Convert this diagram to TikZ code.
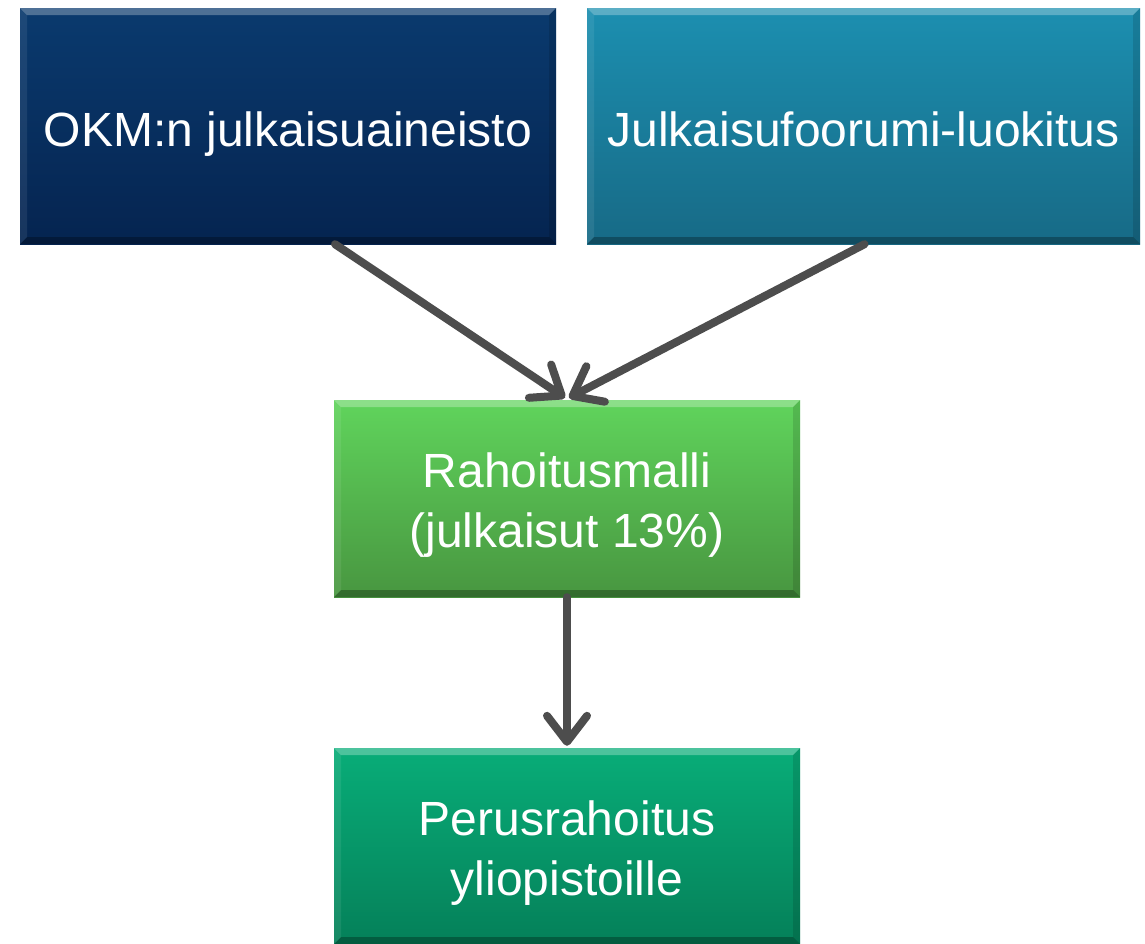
\documentclass[tikz,border=0pt]{standalone}
\usepackage{fontspec}
\setmainfont{Liberation Sans}
\usetikzlibrary{arrows.meta}
\definecolor{arrowgray}{HTML}{4D4D4D}
\tikzset{
  bevelbox/.style={rectangle, inner sep=0pt,
    path picture={
      \fill[white,opacity=0.28] (path picture bounding box.north west) -- (path picture bounding box.north east)
        -- ([xshift=-7pt,yshift=-7pt]path picture bounding box.north east) -- ([xshift=7pt,yshift=-7pt]path picture bounding box.north west) -- cycle;
      \fill[black,opacity=0.28] (path picture bounding box.south west) -- (path picture bounding box.south east)
        -- ([xshift=-7pt,yshift=7pt]path picture bounding box.south east) -- ([xshift=7pt,yshift=7pt]path picture bounding box.south west) -- cycle;
      \fill[black,opacity=0.12] (path picture bounding box.north east) -- (path picture bounding box.south east)
        -- ([xshift=-7pt,yshift=7pt]path picture bounding box.south east) -- ([xshift=-7pt,yshift=-7pt]path picture bounding box.north east) -- cycle;
      \fill[white,opacity=0.08] (path picture bounding box.north west) -- (path picture bounding box.south west)
        -- ([xshift=7pt,yshift=7pt]path picture bounding box.south west) -- ([xshift=7pt,yshift=-7pt]path picture bounding box.north west) -- cycle;
    }},
  boxtext/.style={text=white, align=center, inner sep=0pt, font=\fontsize{48}{60}\selectfont},
  linetext/.style={boxtext, text height=35pt, text depth=0pt},
  okmbox/.style={bevelbox, top color={rgb,255:red,10;green,58;blue,110}, bottom color={rgb,255:red,5;green,36;blue,80}},
  jfbox/.style={bevelbox, top color={rgb,255:red,28;green,143;blue,176}, bottom color={rgb,255:red,23;green,106;blue,134}},
  rmbox/.style={bevelbox, top color={rgb,255:red,96;green,212;blue,92}, bottom color={rgb,255:red,72;green,150;blue,64}},
  prbox/.style={bevelbox, top color={rgb,255:red,8;green,173;blue,120}, bottom color={rgb,255:red,5;green,128;blue,89}},
  flow/.style={draw=arrowgray, line width=8pt, line cap=round,
    -{Straight Barb[length=26pt,width=40pt,round]}}
}
\begin{document}
\begin{tikzpicture}[x=1pt,y=-1pt]
\useasboundingbox[fill=white] (0,0) rectangle (1145,943);
\node[okmbox, minimum width=536pt, minimum height=236pt] (okm) at (288,126) {};
\node[jfbox, minimum width=553pt, minimum height=236pt] (jf) at (863.5,126) {};
\node[rmbox, minimum width=466pt, minimum height=197pt] (rm) at (567,498.5) {};
\node[prbox, minimum width=466pt, minimum height=196pt] (pr) at (567,846) {};
\node[linetext, anchor=base] (okmtext) at ([yshift=-20pt]okm.center) {OKM:n julkaisuaineisto};
\node[linetext, anchor=base] (jftext) at ([yshift=-20pt]jf.center) {Julkaisufoorumi-luokitus};
\node[boxtext] (rmtext) at ([yshift=-7pt]rm.center) {Rahoitusmalli\\(julkaisut 13\%)};
\node[boxtext] (prtext) at ([yshift=-7pt]pr.center) {Perusrahoitus\\yliopistoille};
\coordinate (okmout) at ([xshift=47pt]okm.south);
\coordinate (jfout) at ([xshift=1pt]jf.south);
\draw[flow] (okmout) -- ([xshift=-2pt,yshift=2pt]rm.north);
\draw[flow] (jfout) -- ([xshift=2pt,yshift=2pt]rm.north);
\draw[flow] (rm.south) -- ([yshift=2pt]pr.north);
\end{tikzpicture}
\end{document}
